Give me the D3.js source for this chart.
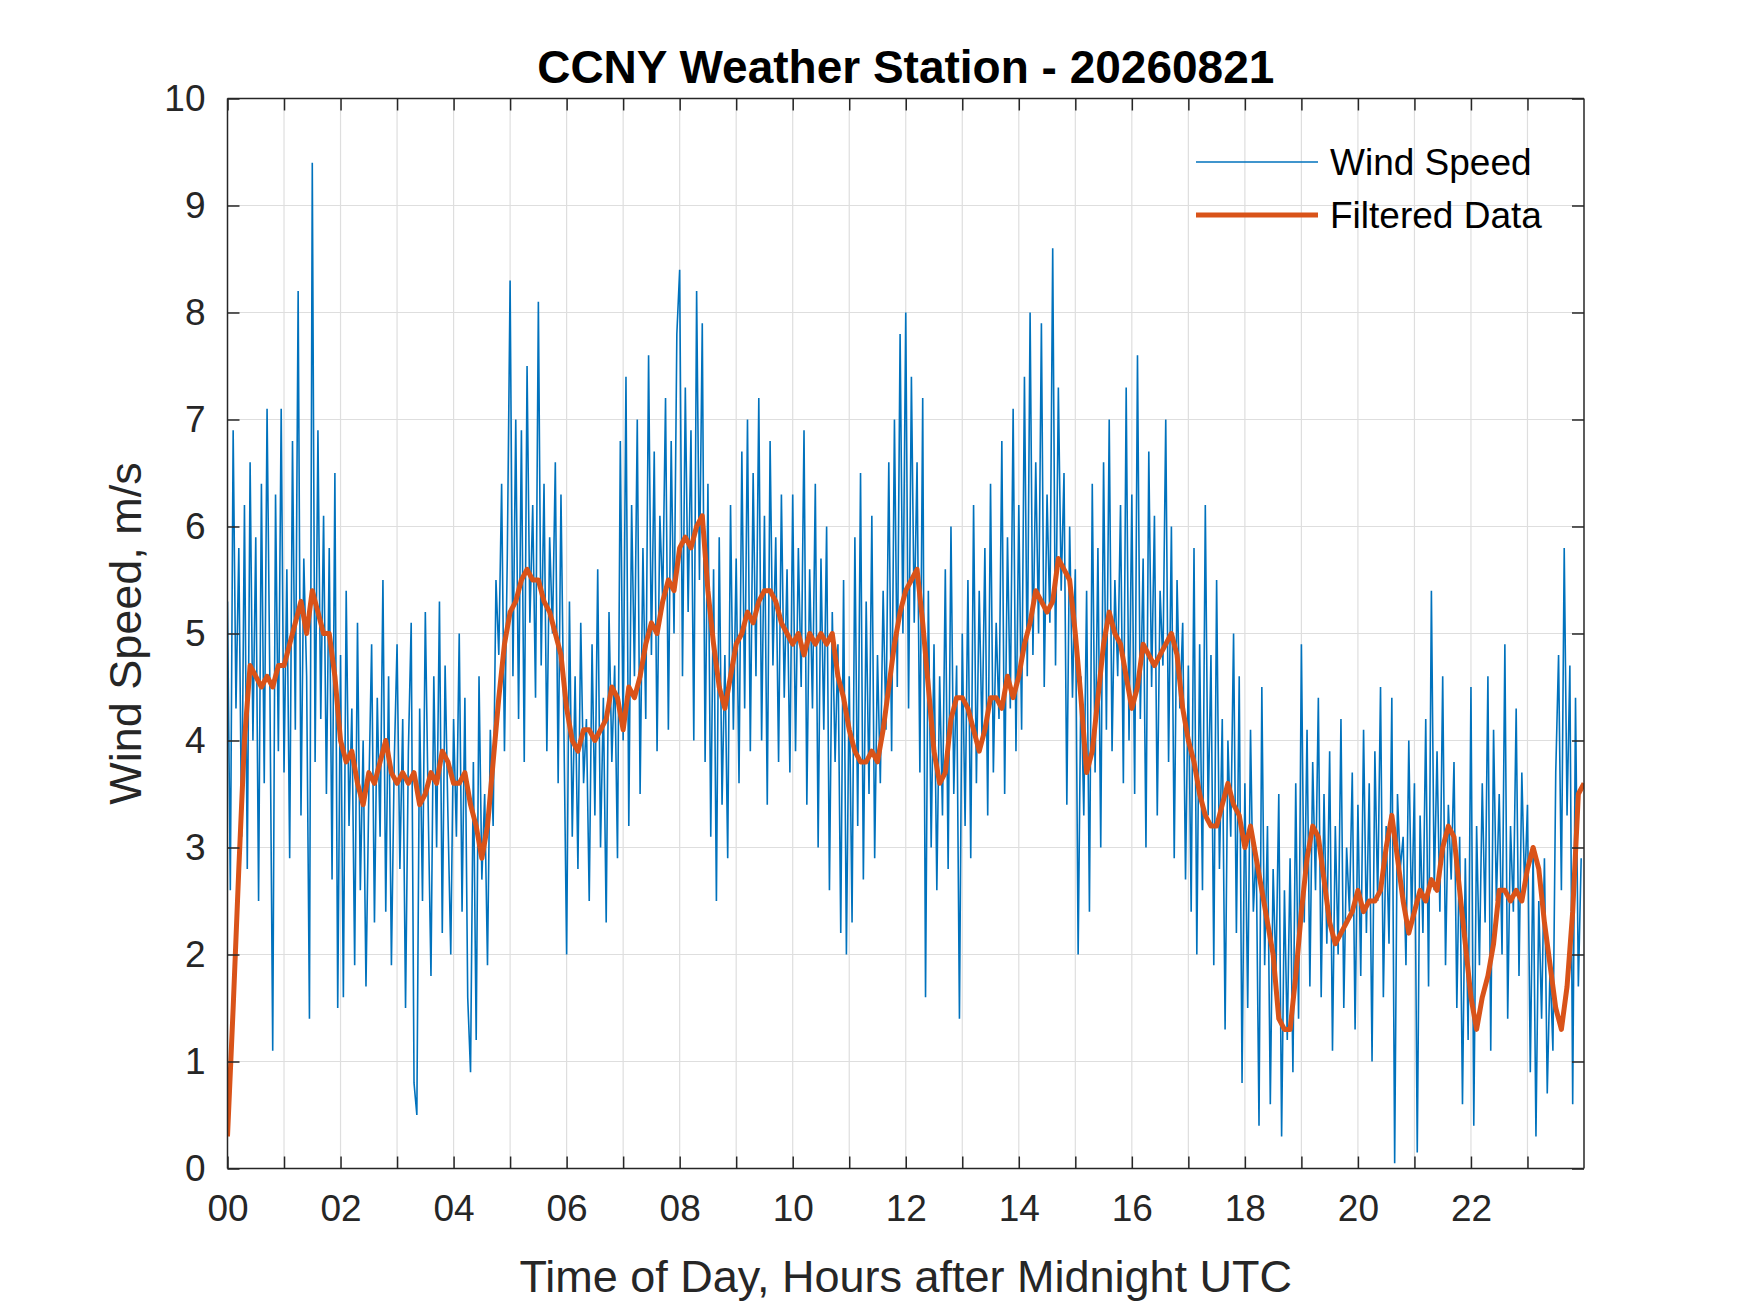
<!DOCTYPE html>
<html>
<head>
<meta charset="utf-8">
<script src="https://cdn.jsdelivr.net/npm/d3@7"></script>
<style>
  body { margin: 0; background: #fff; }
  svg { font-family: 'Liberation Sans', Arial, sans-serif; }
</style>
</head>
<body>
<svg id="chart" width="1750" height="1313"></svg>
<script>
  "use strict";

  // raw wind speed, 20 samples per hour (one row per hour, 00..23)
  var windSpeed = [
    5.3,2.6,6.9,4.3,5.8,3.1,6.2,2.8,6.6,4.0,5.9,2.5,6.4,3.6,7.1,4.5,1.1,6.3,3.9,7.1,
    3.7,5.6,2.9,6.8,4.1,8.2,3.3,5.7,4.6,1.4,9.4,3.8,6.9,4.2,6.1,3.5,5.8,2.7,6.5,1.5,
    4.8,1.6,5.4,3.2,4.3,1.9,5.1,2.6,4.0,1.7,3.5,4.9,2.3,4.4,3.1,5.5,2.4,4.6,1.9,3.8,
    4.9,2.8,4.2,1.5,3.9,5.1,0.8,0.5,4.3,2.5,5.2,3.4,1.8,4.6,3.0,5.3,2.2,4.7,3.3,2.0,
    4.2,3.1,5.0,2.4,4.4,1.6,0.9,3.8,1.2,4.6,2.7,3.5,1.9,4.1,3.2,5.5,4.8,6.4,3.9,5.7,
    8.3,4.6,7.0,4.2,6.9,3.8,7.5,5.1,6.2,4.4,8.1,4.7,6.4,3.9,5.9,5.0,6.6,3.6,6.3,4.2,
    2.0,5.3,3.1,4.6,2.8,5.1,3.6,4.2,2.5,4.9,3.3,5.6,3.0,4.4,2.3,5.2,3.8,4.7,2.9,6.8,
    4.0,7.4,3.2,6.2,4.6,7.0,3.5,5.8,4.2,7.6,4.8,6.7,3.9,6.1,5.3,7.2,4.1,6.8,5.0,7.8,
    8.4,4.6,7.3,5.2,6.9,4.0,8.2,5.5,7.9,3.8,6.4,3.1,5.6,2.5,5.9,3.4,4.8,2.9,6.2,4.1,
    5.7,3.6,6.7,4.3,7.0,3.9,6.5,4.6,7.2,4.0,6.1,3.4,6.8,4.7,5.9,3.8,6.3,4.4,5.6,3.7,
    6.3,3.9,5.8,4.5,6.9,3.4,5.6,4.3,6.4,3.0,5.7,4.1,6.0,2.6,5.2,3.8,4.9,2.2,5.5,2.0,
    4.6,2.3,5.9,3.2,6.5,2.7,5.3,3.5,6.1,2.9,4.8,3.6,5.4,4.1,6.6,3.9,7.0,4.5,7.8,5.0,
    8.0,4.3,7.4,5.1,6.6,3.7,7.2,1.6,5.4,3.0,4.9,2.6,4.6,3.3,5.6,2.8,6.0,3.5,4.7,1.4,
    5.0,3.2,5.5,2.9,6.2,3.6,5.4,4.0,5.8,3.3,6.4,3.7,5.1,4.2,6.8,3.5,5.9,4.3,7.1,3.9,
    6.2,4.1,7.4,4.6,8.0,4.8,6.6,5.0,7.9,4.5,6.3,5.1,8.6,4.7,7.3,5.4,6.5,3.4,6.0,4.4,
    5.6,2.0,4.6,3.3,5.4,2.4,6.4,3.7,5.8,3.0,6.6,4.1,7.0,3.9,5.5,4.6,6.2,3.6,7.3,4.0,
    6.3,3.5,7.6,4.2,5.7,3.0,6.7,4.5,6.1,3.3,5.4,4.7,7.0,3.8,6.0,2.9,5.5,4.3,5.1,2.7,
    4.7,2.4,5.8,2.0,4.9,2.6,6.2,3.3,4.8,1.9,5.5,2.8,4.2,1.3,4.0,3.1,5.0,2.2,4.6,0.8,
    3.6,1.5,4.1,2.4,3.0,0.4,4.5,1.9,3.2,0.6,2.8,1.8,3.5,0.3,2.6,1.2,2.9,0.9,3.6,1.4,
    4.9,2.3,4.1,1.7,3.8,2.6,4.4,1.6,3.5,2.1,3.9,1.1,3.2,2.0,4.2,1.5,3.0,2.4,3.7,1.3,
    3.4,1.8,4.1,2.2,3.6,1.0,3.9,2.5,4.5,1.6,3.2,2.1,4.4,0.05,3.5,2.8,3.1,1.9,4.0,2.3,
    3.6,0.15,3.3,2.2,4.2,1.7,5.4,2.6,3.9,2.4,4.6,1.9,3.4,2.7,3.8,1.5,3.1,0.6,2.9,1.2,
    4.5,0.4,3.2,1.9,3.6,2.3,4.6,1.1,4.1,2.5,3.5,2.0,4.9,1.4,3.2,2.4,4.3,1.8,3.7,2.6,
    3.4,0.9,3.0,0.3,2.5,1.4,2.9,0.7,1.9,1.1,3.7,4.8,2.6,5.8,3.3,4.7,0.6,4.4,1.7,2.9
  ];

  // filtered data, 10 samples per hour
  var filtered = [
    0.3,1.5,2.8,4.0,4.7,4.6,4.5,4.6,4.5,4.7,
    4.7,4.9,5.1,5.3,5.0,5.4,5.2,5.0,5.0,4.6,
    4.0,3.8,3.9,3.6,3.4,3.7,3.6,3.8,4.0,3.7,
    3.6,3.7,3.6,3.7,3.4,3.5,3.7,3.6,3.9,3.8,
    3.6,3.6,3.7,3.4,3.2,2.9,3.2,3.8,4.4,4.9,
    5.2,5.3,5.5,5.6,5.5,5.5,5.3,5.2,5.0,4.8,
    4.3,4.0,3.9,4.1,4.1,4.0,4.1,4.2,4.5,4.4,
    4.1,4.5,4.4,4.6,4.9,5.1,5.0,5.3,5.5,5.4,
    5.8,5.9,5.8,6.0,6.1,5.4,4.9,4.5,4.3,4.6,
    4.9,5.0,5.2,5.1,5.3,5.4,5.4,5.3,5.1,5.0,
    4.9,5.0,4.8,5.0,4.9,5.0,4.9,5.0,4.6,4.4,
    4.1,3.9,3.8,3.8,3.9,3.8,4.1,4.5,4.9,5.2,
    5.4,5.5,5.6,5.1,4.5,3.9,3.6,3.7,4.2,4.4,
    4.4,4.3,4.1,3.9,4.1,4.4,4.4,4.3,4.6,4.4,
    4.6,4.9,5.1,5.4,5.3,5.2,5.3,5.7,5.6,5.5,
    5.0,4.4,3.7,3.9,4.4,4.9,5.2,5.0,4.9,4.6,
    4.3,4.5,4.9,4.8,4.7,4.8,4.9,5.0,4.8,4.3,
    4.0,3.8,3.5,3.3,3.2,3.2,3.4,3.6,3.4,3.3,
    3.0,3.2,2.9,2.6,2.3,2.0,1.4,1.3,1.3,1.8,
    2.4,2.9,3.2,3.1,2.7,2.3,2.1,2.2,2.3,2.4,
    2.6,2.4,2.5,2.5,2.6,3.0,3.3,2.9,2.5,2.2,
    2.4,2.6,2.5,2.7,2.6,3.0,3.2,3.1,2.6,2.1,
    1.6,1.3,1.6,1.8,2.1,2.6,2.6,2.5,2.6,2.5,
    2.8,3.0,2.8,2.3,1.9,1.5,1.3,1.7,2.4,3.5,
    3.6
  ];

  var hourTicks = d3.range(0, 24, 1);
  var yTicks = d3.range(0, 11, 1);
  var seriesNames = ['Wind Speed', 'Filtered Data'];
  var seriesColors = ['#0072BD', '#D95319'];

  var margin = { left: 227.5, right: 166, top: 98.5, bottom: 144.5 },
    W = 1750, H = 1313,
    pw = W - margin.left - margin.right,
    ph = H - margin.top - margin.bottom;

  var svg = d3.select('#chart');
  var g = svg.append('g').attr('transform', 'translate(' + margin.left + ',' + margin.top + ')');

  var x = d3.scaleLinear().domain([0, 24]).range([0, pw]);
  var y = d3.scaleLinear().domain([0, 10]).range([ph, 0]);

  // grid
  g.append('g').selectAll('line').data(hourTicks.slice(1)).enter().append('line')
    .attr('x1', function (d) { return x(d); }).attr('x2', function (d) { return x(d); })
    .attr('y1', 0).attr('y2', ph)
    .attr('stroke', '#dedede').attr('stroke-width', 1.2);
  g.append('g').selectAll('line').data(yTicks.slice(1, -1)).enter().append('line')
    .attr('y1', function (d) { return y(d); }).attr('y2', function (d) { return y(d); })
    .attr('x1', 0).attr('x2', pw)
    .attr('stroke', '#dedede').attr('stroke-width', 1.2);

  // lines
  var raw = windSpeed.map(function (v, i) { return [i / 20, v]; });
  var filt = filtered.map(function (v, i) { return [i / 10, v]; });
  var line = d3.line().x(function (d) { return x(d[0]); }).y(function (d) { return y(d[1]); });
  g.append('clipPath').attr('id', 'clip').append('rect').attr('width', pw).attr('height', ph);

  g.append('path').datum(raw).attr('d', line).attr('fill', 'none')
    .attr('stroke', seriesColors[0]).attr('stroke-width', 1.6).attr('clip-path', 'url(#clip)');
  g.append('path').datum(filt).attr('d', line).attr('fill', 'none')
    .attr('stroke', seriesColors[1]).attr('stroke-width', 5).attr('stroke-linejoin', 'round')
    .attr('clip-path', 'url(#clip)');

  // axes (ticks inside, on all four sides)
  var fmtHour = function (d) { return d % 2 === 0 ? d3.format('02d')(d) : ''; };
  var ax = g.append('g').attr('transform', 'translate(0,' + ph + ')')
    .call(d3.axisBottom(x).tickValues(hourTicks).tickFormat(fmtHour).tickSizeInner(-12).tickSizeOuter(0).tickPadding(26));
  var axT = g.append('g')
    .call(d3.axisTop(x).tickValues(hourTicks).tickFormat('').tickSizeInner(-12).tickSizeOuter(0));
  var ay = g.append('g')
    .call(d3.axisLeft(y).tickValues(yTicks).tickFormat(d3.format('d')).tickSizeInner(-12).tickSizeOuter(0).tickPadding(22));
  var ayR = g.append('g').attr('transform', 'translate(' + pw + ',0)')
    .call(d3.axisRight(y).tickValues(yTicks).tickFormat('').tickSizeInner(-12).tickSizeOuter(0));
  [ax, axT, ay, ayR].forEach(function (a) {
    a.selectAll('path').attr('stroke', '#262626').attr('stroke-width', 1.5);
    a.selectAll('line').attr('stroke', '#262626').attr('stroke-width', 1.5);
    a.selectAll('text').attr('fill', '#262626').style('font-size', '37px').style('font-family', "'Liberation Sans', Arial, sans-serif");
  });
  ax.select('.domain').attr('d', 'M0,0H' + pw);
  ay.select('.domain').attr('d', 'M0,0V' + ph);
  axT.select('.domain').attr('d', 'M0,0H' + pw);
  ayR.select('.domain').attr('d', 'M0,0V' + ph);

  // labels
  svg.append('text').attr('x', margin.left + pw / 2).attr('y', 83).attr('text-anchor', 'middle')
    .attr('font-size', 46).attr('font-weight', 'bold').attr('fill', '#000')
    .text('CCNY Weather Station - 20260821');
  svg.append('text').attr('x', margin.left + pw / 2).attr('y', 1292).attr('text-anchor', 'middle')
    .attr('font-size', 45).attr('fill', '#262626')
    .text('Time of Day, Hours after Midnight UTC');
  svg.append('text').attr('transform', 'translate(141,' + (margin.top + ph / 2) + ') rotate(-90)')
    .attr('text-anchor', 'middle').attr('font-size', 45).attr('fill', '#262626')
    .text('Wind Speed, m/s');

  // legend
  var lg = svg.append('g').attr('transform', 'translate(1196,162)');
  seriesNames.forEach(function (name, i) {
    lg.append('line').attr('x1', 0).attr('x2', 122).attr('y1', i * 53).attr('y2', i * 53)
      .attr('stroke', seriesColors[i]).attr('stroke-width', i === 0 ? 1.6 : 5);
    lg.append('text').attr('x', 134).attr('y', i * 53 + 13).attr('font-size', 37).attr('fill', '#000').text(name);
  });
</script>
</body>
</html>
